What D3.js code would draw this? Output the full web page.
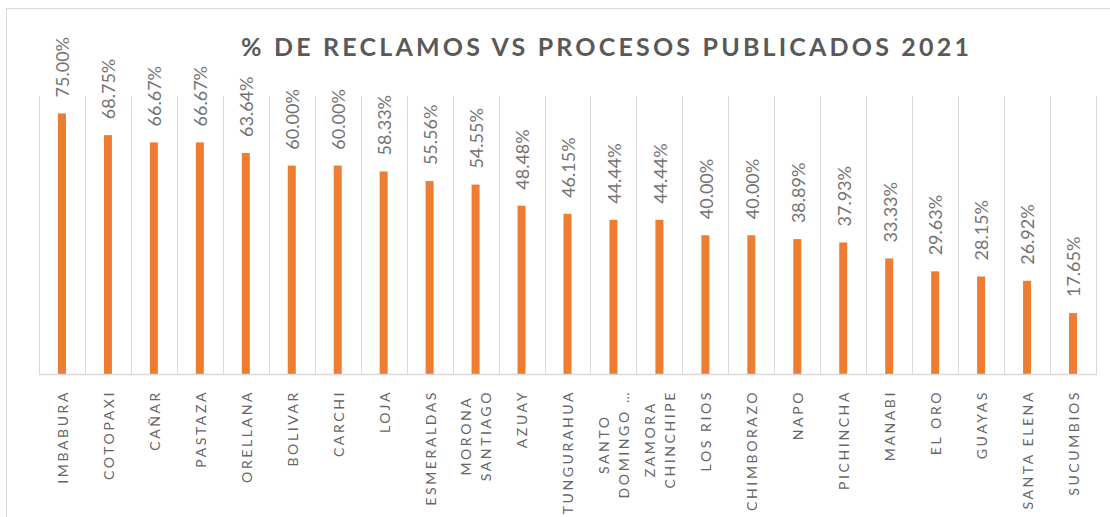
<!DOCTYPE html>
<html>
<head>
<meta charset="utf-8">
<script src="https://cdn.jsdelivr.net/npm/d3@7"></script>
<style>
  body { margin: 0; background: #fff; }
  svg { display: block; }
  text { font-family: Lato, "Open Sans", sans-serif; }
</style>
</head>
<body>
<svg id="chart"></svg>
<script>
// chart data
const categories = ["IMBABURA", "COTOPAXI", "CAÑAR", "PASTAZA", "ORELLANA", "BOLIVAR", "CARCHI", "LOJA",
  "ESMERALDAS", "MORONA SANTIAGO", "AZUAY", "TUNGURAHUA", "SANTO DOMINGO", "ZAMORA CHINCHIPE",
  "LOS RIOS", "CHIMBORAZO", "NAPO", "PICHINCHA", "MANABI", "EL ORO", "GUAYAS", "SANTA ELENA", "SUCUMBIOS"];
const values = [75.00, 68.75, 66.67, 66.67, 63.64, 60.00, 60.00, 58.33, 55.56, 54.55, 48.48, 46.15,
  44.44, 44.44, 40.00, 40.00, 38.89, 37.93, 33.33, 29.63, 28.15, 26.92, 17.65];
// axis labels as shown (wrapped lines split with \n)
const tickLabels = ["IMBABURA", "COTOPAXI", "CAÑAR", "PASTAZA", "ORELLANA", "BOLIVAR", "CARCHI", "LOJA",
  "ESMERALDAS", "MORONA\nSANTIAGO", "AZUAY", "TUNGURAHUA", "SANTO\nDOMINGO …", "ZAMORA\nCHINCHIPE",
  "LOS RIOS", "CHIMBORAZO", "NAPO", "PICHINCHA", "MANABI", "EL ORO", "GUAYAS", "SANTA ELENA", "SUCUMBIOS"];
const title = "% DE RECLAMOS VS PROCESOS PUBLICADOS 2021";

const W = 1110, H = 517;
const plot = { left: 39, right: 1096, top: 96, bottom: 374.5 };
const barW = 8;

const svg = d3.select("#chart").attr("width", W).attr("height", H);

// outer chart border
svg.append("rect")
  .attr("x", 6.5).attr("y", 8.5)
  .attr("width", W + 20).attr("height", H + 20)
  .attr("fill", "none").attr("stroke", "#d9d9d9");

const x = d3.scaleBand().domain(categories).range([plot.left, plot.right]).padding(0);
const y = d3.scaleLinear().domain([0, 80]).range([plot.bottom, plot.top]);

// vertical gridlines between categories
const edges = categories.map(d => x(d)).concat([plot.right]);
svg.append("g").selectAll("line").data(edges).join("line")
  .attr("x1", d => Math.round(d) + 0.5).attr("x2", d => Math.round(d) + 0.5)
  .attr("y1", plot.top).attr("y2", plot.bottom)
  .attr("stroke", "#d9d9d9").attr("stroke-width", 1);

// bars
svg.append("g").selectAll("rect").data(values).join("rect")
  .attr("x", (d, i) => x(categories[i]) + x.bandwidth() / 2 - barW / 2)
  .attr("y", d => y(d))
  .attr("width", barW)
  .attr("height", d => y(0) - y(d))
  .attr("fill", "#ed7d31");

// baseline
svg.append("line")
  .attr("x1", plot.left).attr("x2", plot.right + 1)
  .attr("y1", plot.bottom).attr("y2", plot.bottom)
  .attr("stroke", "#d9d9d9").attr("stroke-width", 1.5);

// data labels (rotated)
svg.append("g").selectAll("text").data(values).join("text")
  .attr("transform", (d, i) => "translate(" + (x(categories[i]) + x.bandwidth() / 2 + 1) + "," + (y(d) - 16) + ") rotate(-90)")
  .attr("dy", "0.35em")
  .attr("text-anchor", "start")
  .attr("font-size", 18)
  .attr("fill", "#737373")
  .text(d => d.toFixed(2) + "%");

// category labels, rotated, wrapped lines centred in their block
const labelTop = 390;
const lineGap = 20;
tickLabels.forEach((lab, i) => {
  const lines = lab.split("\n");
  const g = svg.append("g")
    .attr("transform", "translate(" + (x(categories[i]) + x.bandwidth() / 2 + 1) + "," + labelTop + ") rotate(-90)");
  const texts = lines.map((ln, j) => g.append("text")
    .attr("y", (j - (lines.length - 1) / 2) * lineGap)
    .attr("dy", "0.35em")
    .attr("text-anchor", "middle")
    .attr("font-size", 14)
    .attr("letter-spacing", "2.6px")
    .attr("fill", "#666")
    .text(ln));
  const maxLen = d3.max(texts, t => t.node().getComputedTextLength());
  texts.forEach(t => t.attr("x", -maxLen / 2));
});

// title, spread to the width it takes in the original
const titleText = svg.append("text")
  .attr("x", 605).attr("y", 56)
  .attr("text-anchor", "middle")
  .attr("font-size", 25)
  .attr("font-weight", "bold")
  .attr("fill", "#595959")
  .text(title);
const natural = titleText.node().getComputedTextLength();
const spacing = (731 - natural) / title.length;
titleText.attr("letter-spacing", spacing + "px").attr("x", 605 + spacing / 2);
</script>
</body>
</html>
